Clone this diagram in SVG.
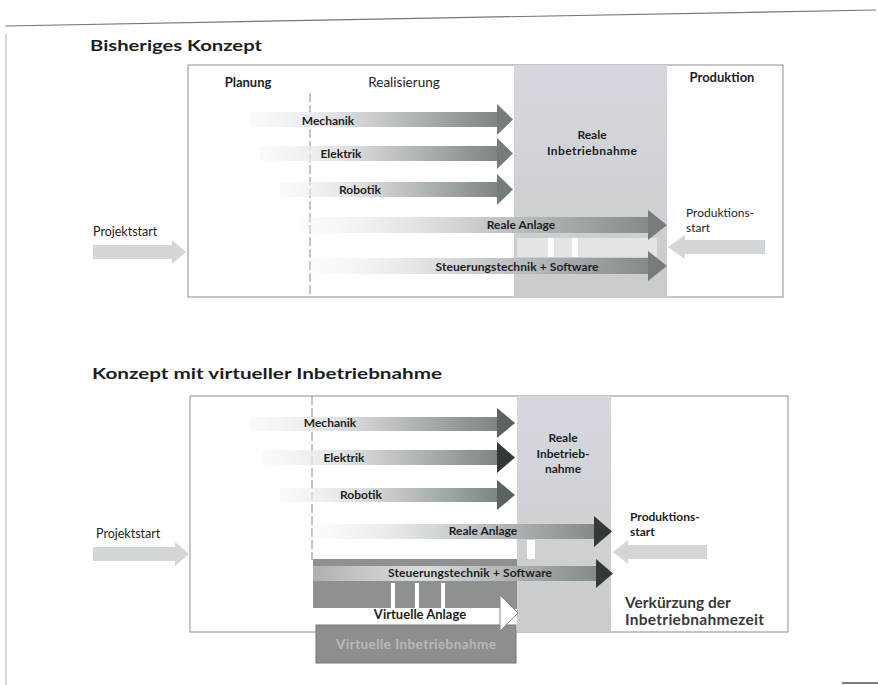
<svg xmlns="http://www.w3.org/2000/svg" width="878" height="685" viewBox="0 0 878 685">
<defs>
<style>
text{font-family:Lato,"Liberation Sans",sans-serif;fill:#1e1e1e}
.title{font-size:15.5px;font-weight:bold}
.hdr{font-size:13px;font-weight:bold}
.lbl{font-size:12px;font-weight:bold}
.reg{font-size:12.5px}
.ps{font-size:12px}
.box{fill:none;stroke:#8c8c8c;stroke-width:1}
.div{stroke:#888;stroke-width:1;stroke-dasharray:9 3;fill:none}
.light{fill:#d3d7da}
.headT{fill:#767c7c}
.headD{fill:#353838}
.headM{fill:#5c6262}
</style>
<linearGradient id="gBar" x1="0" y1="0" x2="1" y2="0">
<stop offset="0" stop-color="#f2f3f4" stop-opacity="0.4"/>
<stop offset="0.35" stop-color="#dfe2e4"/>
<stop offset="1" stop-color="#7e8484"/>
</linearGradient>
<linearGradient id="gLong" x1="0" y1="0" x2="1" y2="0">
<stop offset="0" stop-color="#f4f5f6" stop-opacity="0.3"/>
<stop offset="0.4" stop-color="#d8dbdd"/>
<stop offset="1" stop-color="#848a8a"/>
</linearGradient>
<linearGradient id="gShade" x1="0" y1="0" x2="0" y2="1">
<stop offset="0" stop-color="#d5d8de"/>
<stop offset="1" stop-color="#cacbcd"/>
</linearGradient>
</defs>
<rect width="878" height="685" fill="#fff"/>
<!-- scan border -->
<line x1="5" y1="26" x2="876" y2="10" stroke="#777" stroke-width="1.2"/>
<line x1="6" y1="34" x2="6" y2="685" stroke="#aaa" stroke-width="1"/>
<line x1="842" y1="683" x2="878" y2="683" stroke="#555" stroke-width="1.5"/>

<!-- ===== Top: Bisheriges Konzept ===== -->
<text class="title" x="90" y="51" textLength="172" lengthAdjust="spacingAndGlyphs">Bisheriges Konzept</text>

<g id="top-frame">
<rect x="188" y="65" width="595" height="232" class="box"/>
</g>
<g id="top-reale-inbetriebnahme">
<rect x="514" y="65" width="153" height="232" fill="url(#gShade)"/>
<rect x="517" y="238" width="140" height="19" fill="#e4e5e6"/>
<rect x="548" y="238" width="6" height="19" fill="#fff"/>
<rect x="572" y="238" width="6" height="19" fill="#fff"/>
<text class="lbl" x="592" y="139" text-anchor="middle">Reale</text>
<text class="lbl" x="592" y="155" text-anchor="middle" textLength="90">Inbetriebnahme</text>
</g>
<g id="top-planung">
<text class="hdr" x="248" y="87" text-anchor="middle">Planung</text>
</g>
<g id="top-realisierung">
<line x1="310" y1="93" x2="310" y2="297" class="div"/>
<text x="404" y="87" text-anchor="middle" style="font-size:13.5px">Realisierung</text>
</g>
<g id="top-produktion">
<text class="hdr" x="722" y="82" text-anchor="middle">Produktion</text>
<text class="ps" x="686" y="217">Produktions-</text>
<text class="ps" x="686" y="232">start</text>
</g>
<g id="top-projektstart">
<text class="reg" x="93" y="236">Projektstart</text>
</g>

<g id="top-connectors">
<rect x="250" y="112" width="248" height="15" fill="url(#gBar)"/>
<polygon class="headT" points="497,104 513,119.5 497,135"/>
<rect x="260" y="146" width="238" height="15" fill="url(#gBar)"/>
<polygon class="headT" points="497,138 513,153.5 497,169"/>
<rect x="280" y="182" width="218" height="15" fill="url(#gBar)"/>
<polygon class="headT" points="497,174 513,189.5 497,205"/>
<rect x="300" y="217" width="349" height="16" fill="url(#gLong)"/>
<polygon class="headT" points="648,210 667,225 648,240"/>
<rect x="310" y="258" width="339" height="16" fill="url(#gLong)"/>
<polygon class="headT" points="648,251 667,266 648,281"/>
<rect x="93" y="245" width="80" height="14" class="light"/>
<polygon class="light" points="172,240 186,252 172,264"/>
<rect x="684" y="240" width="81" height="14" class="light"/>
<polygon class="light" points="685,235 668,247 685,259"/>
<text class="lbl" x="328" y="125" text-anchor="middle">Mechanik</text>
<text class="lbl" x="341" y="158" text-anchor="middle">Elektrik</text>
<text class="lbl" x="360" y="194" text-anchor="middle">Robotik</text>
<text class="lbl" x="521" y="229" text-anchor="middle">Reale Anlage</text>
<text class="lbl" x="517" y="271" text-anchor="middle" textLength="163">Steuerungstechnik + Software</text>
</g>

<!-- ===== Bottom: Konzept mit virtueller Inbetriebnahme ===== -->
<text class="title" x="92" y="379" textLength="350" lengthAdjust="spacingAndGlyphs">Konzept mit virtueller Inbetriebnahme</text>

<g id="bottom-frame">
<rect x="190" y="396" width="598" height="236" class="box"/>
<line x1="312" y1="396" x2="312" y2="560" class="div"/>
</g>
<g id="bottom-reale-inbetriebnahme">
<rect x="517" y="396" width="94" height="236" fill="url(#gShade)"/>
<rect x="527" y="540" width="8" height="19" fill="#fff"/>
<text class="lbl" x="563" y="442" text-anchor="middle">Reale</text>
<text class="lbl" x="563" y="458" text-anchor="middle">Inbetrieb-</text>
<text class="lbl" x="563" y="473" text-anchor="middle">nahme</text>
</g>
<g id="bottom-produktion">
<text class="ps" x="630" y="521" style="font-weight:bold">Produktions-</text>
<text class="ps" x="630" y="536" style="font-weight:bold">start</text>
<text x="625" y="608" style="font-size:15.5px;font-weight:bold;fill:#3a3a3a">Verkürzung der</text>
<text x="625" y="625" style="font-size:15.5px;font-weight:bold;fill:#3a3a3a" textLength="139">Inbetriebnahmezeit</text>
</g>
<g id="bottom-projektstart">
<text class="reg" x="96" y="538">Projektstart</text>
</g>
<g id="virtuelle-anlage">
<rect x="313" y="559" width="204" height="50" fill="#8f9090"/>
<rect x="391" y="583" width="4" height="25" fill="#fff"/>
<rect x="415" y="583" width="4" height="25" fill="#fff"/>
<rect x="441" y="583" width="4" height="25" fill="#fff"/>
</g>
<g id="virtuelle-inbetriebnahme">
<rect x="316" y="625" width="200" height="38" fill="#8e8e8e" stroke="#777"/>
<text x="416" y="649" text-anchor="middle" textLength="160" style="font-size:13.5px;font-weight:bold;fill:#b8b8b8">Virtuelle Inbetriebnahme</text>
</g>

<g id="bottom-connectors">
<rect x="250" y="417" width="248" height="14" fill="url(#gBar)"/>
<polygon class="headM" points="497,408 515,423 497,438"/>
<rect x="262" y="450" width="236" height="15" fill="url(#gBar)"/>
<polygon class="headD" points="497,442 515,457.5 497,473"/>
<rect x="280" y="488" width="218" height="14" fill="url(#gBar)"/>
<polygon class="headM" points="497,480 515,495 497,510"/>
<rect x="312" y="524" width="283" height="15" fill="url(#gLong)"/>
<polygon class="headD" points="594,516 612,531.5 594,547"/>
<rect x="313" y="566" width="284" height="15" fill="url(#gLong)"/>
<polygon class="headD" points="596,559 613,573.5 596,588"/>
<rect x="313" y="608" width="188" height="15" fill="#fff"/>
<polygon points="500,595 518,613 500,631" fill="#fff" stroke="#888" stroke-width="1"/>
<rect x="93" y="547" width="83" height="14" class="light"/>
<polygon class="light" points="175,542 189,554 175,566"/>
<rect x="627" y="545" width="80" height="14" class="light"/>
<polygon class="light" points="628,540 613,552 628,564"/>
<text class="lbl" x="330" y="427" text-anchor="middle">Mechanik</text>
<text class="lbl" x="344" y="462" text-anchor="middle">Elektrik</text>
<text class="lbl" x="361" y="499" text-anchor="middle">Robotik</text>
<text class="lbl" x="483" y="535" text-anchor="middle">Reale Anlage</text>
<text class="lbl" x="470" y="577" text-anchor="middle" textLength="164">Steuerungstechnik + Software</text>
<text class="lbl" x="420" y="619" text-anchor="middle" style="font-size:13px">Virtuelle Anlage</text>
</g>
</svg>
